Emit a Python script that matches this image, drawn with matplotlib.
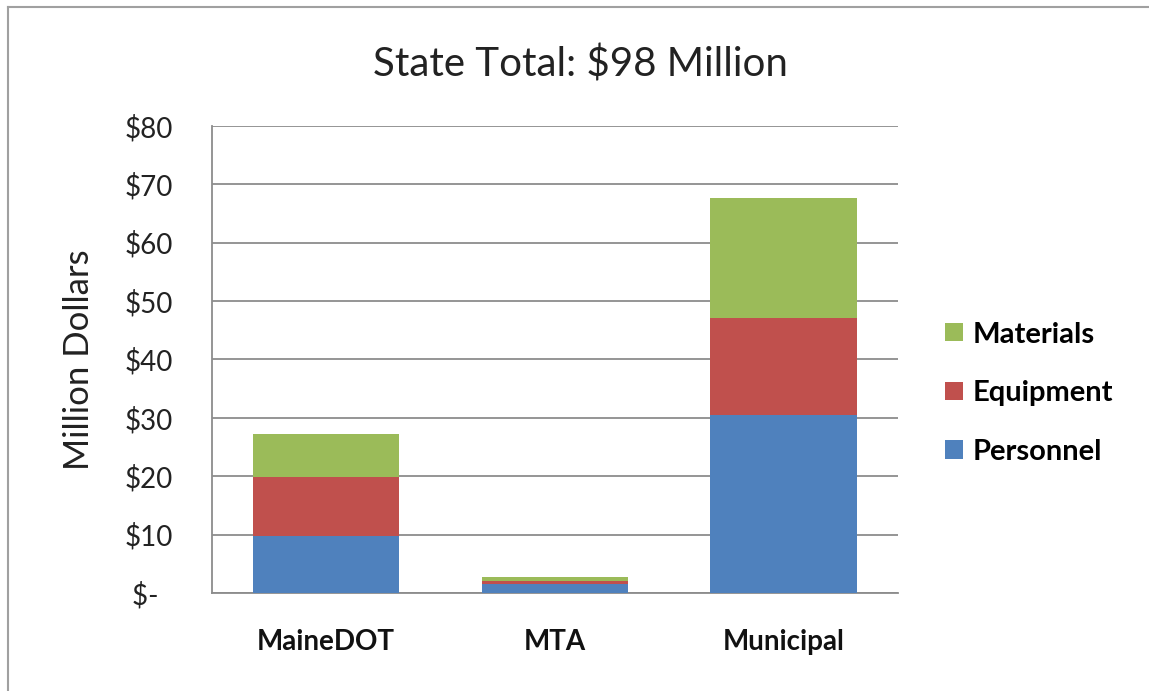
import matplotlib
matplotlib.use("Agg")
import matplotlib.pyplot as plt
from matplotlib.lines import Line2D
import numpy as np

categories = ["MaineDOT", "MTA", "Municipal"]
personnel = [9.7, 1.5, 30.5]
equipment = [10.2, 0.6, 16.6]
materials = [7.3, 0.6, 20.6]
y_ticks = [0, 10, 20, 30, 40, 50, 60, 70, 80]
y_labels = ["$-  ", "$10", "$20", "$30", "$40", "$50", "$60", "$70", "$80"]

BLUE = "#4F81BD"
RED = "#C0504D"
GREEN = "#9BBB59"
GRID = "#8C8C8C"

plt.rcParams["font.family"] = ["Lato", "DejaVu Sans"]

fig = plt.figure(figsize=(11.49, 6.91), dpi=100)
ax = fig.add_axes([0.1842, 0.1418, 0.7815 - 0.1842, 0.8177 - 0.1418])

x = np.arange(len(categories))
w = 0.64
p = np.array(personnel)
e = np.array(equipment)
m = np.array(materials)
b1 = ax.bar(x, p, w, color=BLUE, zorder=3, label="Personnel")
b2 = ax.bar(x, e, w, bottom=p, color=RED, zorder=3, label="Equipment")
b3 = ax.bar(x, m, w, bottom=p + e, color=GREEN, zorder=3, label="Materials")

ax.set_xlim(-0.5, 2.5)
ax.set_ylim(0, 80)
ax.set_yticks(y_ticks)
ax.set_yticklabels(y_labels, fontsize=20, color="#222222")
ax.set_xticks(x)
ax.set_xticklabels(categories, fontsize=20, fontweight="bold", color="#111111")
ax.tick_params(axis="y", length=0, pad=28)
ax.tick_params(axis="x", length=0, pad=26)
ax.yaxis.grid(True, color=GRID, linewidth=1.3, zorder=0)
for s in ["top", "right"]:
    ax.spines[s].set_visible(False)
for s in ["left", "bottom"]:
    ax.spines[s].set_color(GRID)
    ax.spines[s].set_linewidth(1.3)

ax.set_ylabel("Million Dollars", fontsize=25, color="#222222", labelpad=21)
fig.text(0.505, 0.907, "State Total: $98 Million", ha="center", va="center",
         fontsize=29, color="#222222")

fig.legend([b3, b2, b1], ["Materials", "Equipment", "Personnel"],
           loc="center left", bbox_to_anchor=(0.810, 0.431), frameon=False,
           prop={"weight": "bold", "size": 21},
           handlelength=0.6, handleheight=0.6, handletextpad=0.35,
           labelspacing=1.12, borderpad=0)

# outer chart border (only top and left visible in the crop)
W, H = 1149, 691
fig.add_artist(Line2D([8 / W, 1.0], [1 - 7 / H, 1 - 7 / H], color="#A0A0A0", linewidth=1.5))
fig.add_artist(Line2D([8 / W, 8 / W], [0.0, 1 - 7 / H], color="#A0A0A0", linewidth=1.5))

fig.savefig("out.png", dpi=100)
